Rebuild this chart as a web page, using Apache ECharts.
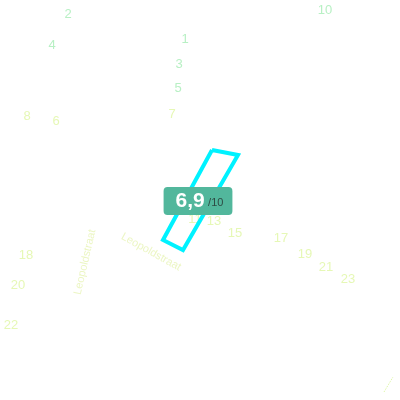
<!DOCTYPE html>
<html>
<head>
<meta charset="utf-8">
<script src="https://cdn.jsdelivr.net/npm/echarts@6/dist/echarts.min.js"></script>
<style>
  html, body { margin: 0; padding: 0; background: #fff; }
  #chart { width: 400px; height: 400px; }
</style>
</head>
<body>
<div id="chart"></div>
<script>
// huisnummers (groene en gele labels)
const greenNumbers = ['2', '4', '1', '3', '5', '10']
const greenX = [68, 52, 185, 179, 178, 325]
const greenY = [14, 45, 39, 64, 88, 10]

const yellowNumbers = ['7', '8', '6', '11', '13', '15', '17', '19', '21', '23', '18', '20', '22']
const yellowX = [172, 27, 56, 195, 214, 235, 281, 305, 326, 348, 26, 18, 11]
const yellowY = [114, 116, 121, 219, 221, 233, 238, 254, 267, 279, 255, 285, 325]

// straatnamen
const streetNames = ['Leopoldstraat', 'Leopoldstraat']
const streetX = [151, 85]
const streetY = [252, 262]
const streetAngle = [-29, 77]

// gebouw contour
const buildingX = [212, 238, 183, 163, 212]
const buildingY = [150, 155, 250, 240, 150]

// rand van de kaart rechtsonder
const edgeX = [384, 393]
const edgeY = [392, 377]

// score
const score = '6,9'
const scoreMax = '/10'
const scoreX = 198
const scoreY = 201

const zip = (xs, ys, names) => xs.map((x, i) => names ? { name: names[i], value: [x, ys[i]] } : [x, ys[i]])

const font = 'Liberation Sans'

const chart = echarts.init(document.getElementById('chart'))
chart.setOption({
  animation: false,
  grid: { left: 0, right: 0, top: 0, bottom: 0 },
  xAxis: { type: 'value', min: 0, max: 400, show: false },
  yAxis: { type: 'value', min: 0, max: 400, inverse: true, show: false },
  series: [
    {
      type: 'scatter',
      symbolSize: 0,
      z: 2,
      itemStyle: { opacity: 1 },
      data: zip(greenX, greenY, greenNumbers),
      label: {
        show: true,
        position: 'inside',
        formatter: '{b}',
        color: '#b8f0c4',
        fontSize: 13,
        fontFamily: font
      }
    },
    {
      type: 'scatter',
      symbolSize: 0,
      z: 2,
      itemStyle: { opacity: 1 },
      data: zip(yellowX, yellowY, yellowNumbers),
      label: {
        show: true,
        position: 'inside',
        formatter: '{b}',
        color: '#e6f8b6',
        fontSize: 13,
        fontFamily: font
      }
    },
    {
      type: 'scatter',
      symbolSize: 0,
      z: 2,
      itemStyle: { opacity: 1 },
      data: streetNames.map((n, i) => ({
        name: n,
        value: [streetX[i], streetY[i]],
        label: { rotate: streetAngle[i] }
      })),
      label: {
        show: true,
        position: 'inside',
        formatter: '{b}',
        color: '#ecf6c4',
        fontSize: 11,
        fontFamily: font
      }
    },
    {
      type: 'line',
      symbol: 'none',
      z: 3,
      data: zip(buildingX, buildingY),
      lineStyle: { color: '#00f2ff', width: 4, join: 'miter' }
    },
    {
      type: 'line',
      symbol: 'none',
      z: 2,
      data: zip(edgeX, edgeY),
      lineStyle: { color: '#d8f59a', width: 1, type: 'dotted' }
    },
    {
      type: 'scatter',
      symbolSize: 0,
      z: 10,
      itemStyle: { opacity: 1 },
      data: [{ name: score, value: [scoreX, scoreY] }],
      label: {
        show: true,
        position: 'inside',
        formatter: '{a|' + score + '} {b|' + scoreMax + '}',
        backgroundColor: '#52b79c',
        borderRadius: 4,
        padding: [3, 9, 3, 12],
        rich: {
          a: { color: '#fff', fontSize: 21, fontWeight: 'bold', fontFamily: font, lineHeight: 22 },
          b: { color: '#2e4b44', fontSize: 11, fontFamily: font, padding: [4, 0, 0, 0] }
        }
      }
    }
  ]
})
</script>
</body>
</html>
